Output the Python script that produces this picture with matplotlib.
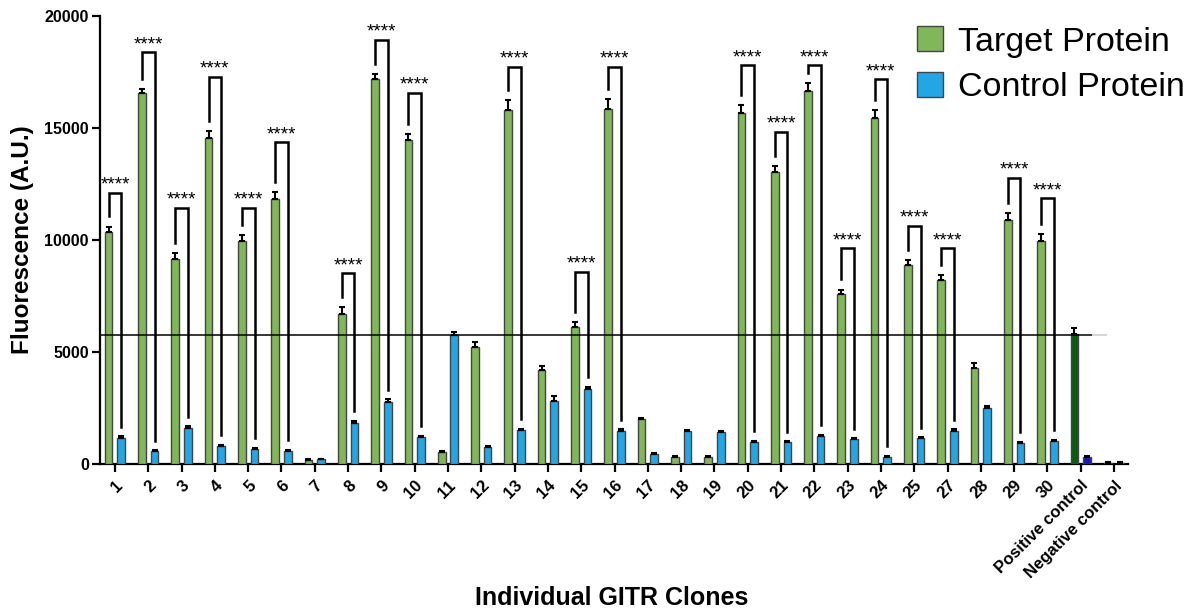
import numpy as np
import matplotlib
matplotlib.use('Agg')
import matplotlib.pyplot as plt
from matplotlib.patches import Patch

plt.rcParams['font.family'] = ['Liberation Sans', 'DejaVu Sans']

# Data
labels = [str(i) for i in range(1, 26)] + ['27', '28', '29', '30',
                                           'Positive control', 'Negative control']
target = [10350, 16550, 9140, 14540, 9955, 11830, 180, 6680, 17170, 14460,
          520, 5210, 15790, 4210, 6100, 15860, 1995, 330, 330, 15670,
          13040, 16670, 7600, 15430, 8880, 8200, 4300, 10890, 9970, 5790, 50]
target_err = [250, 180, 270, 340, 250, 310, 40, 340, 240, 270,
              60, 220, 460, 165, 240, 450, 80, 40, 50, 340,
              270, 330, 190, 370, 220, 250, 190, 330, 300, 270, 20]
control = [1170, 580, 1620, 820, 685, 595, 210, 1845, 2780, 1205,
           5760, 775, 1505, 2800, 3330, 1490, 430, 1455, 1430, 1000,
           980, 1250, 1100, 330, 1145, 1490, 2500, 950, 1030, 330, 60]
control_err = [60, 50, 70, 50, 50, 50, 30, 80, 120, 60,
               150, 50, 70, 240, 120, 70, 40, 60, 60, 50,
               50, 60, 60, 40, 60, 70, 80, 50, 50, 40, 20]

# significance brackets (group label, bracket top)
sig_groups = ['1', '2', '3', '4', '5', '6', '8', '9', '10', '13', '15', '16',
              '20', '21', '22', '23', '24', '25', '27', '29', '30']
sig_tops = [12110, 18380, 11450, 17290, 11450, 14360, 8510, 18930, 16580,
            17740, 8590, 17740, 17800, 14840, 17800, 9630, 17170, 10640,
            9630, 12780, 11860]

threshold = 5760

green = '#80b758'
blue = '#22a7e6'
edge = '#444444'

fig = plt.figure(figsize=(11.99, 6.10), dpi=100)
ax = fig.add_axes([0.0834, 0.2393, 0.8574, 0.7345])

x = np.arange(len(labels))
off = 0.19
w = 0.23

g_colors = [green] * len(labels)
b_colors = [blue] * len(labels)
g_colors[-2] = '#0b5c10'
b_colors[-2] = '#1414c8'

ax.bar(x - off, target, w, color=g_colors, edgecolor=edge, linewidth=1.0, zorder=3)
ax.bar(x + off, control, w, color=b_colors, edgecolor=edge, linewidth=1.0, zorder=3)

zeros = np.zeros(len(labels))
ax.errorbar(x - off, target, yerr=[zeros, target_err], fmt='none', ecolor='black',
            elinewidth=1.5, capsize=2.2, capthick=1.5, zorder=4)
ax.errorbar(x + off, control, yerr=[zeros, control_err], fmt='none', ecolor='black',
            elinewidth=1.5, capsize=2.2, capthick=1.5, zorder=4)

# threshold line
ax.hlines(threshold, -0.45, 29.35, color='black', lw=1.1, zorder=5)
ax.hlines(threshold, 29.35, 29.8, color='#cccccc', lw=1.1, zorder=5)

# brackets
for g, top in zip(sig_groups, sig_tops):
    i = labels.index(g)
    xl = i - off
    xr = i + off
    yl = target[i] + target_err[i] + 450
    yr = control[i] + control_err[i] + 420
    ax.plot([xl, xl, xr, xr], [yl, top, top, yr], color='black', lw=1.8,
            solid_joinstyle='miter', zorder=6, clip_on=False)
    ax.text(i, top - 40, '****', ha='center', va='bottom', fontsize=13.5,
            zorder=6)

ax.set_xlim(-0.45, 30.42)
ax.set_ylim(0, 20000)
ax.set_yticks([0, 5000, 10000, 15000, 20000])
ax.set_xticks(x)
ax.set_xticklabels(labels, rotation=45, ha='right', va='top',
                   rotation_mode='anchor', fontsize=12, fontweight='bold')
for t in ax.get_yticklabels():
    t.set_fontweight('bold')
    t.set_fontsize(11.5)

ax.spines['top'].set_visible(False)
ax.spines['right'].set_visible(False)
ax.spines['left'].set_linewidth(1.6)
ax.spines['bottom'].set_linewidth(1.6)
ax.tick_params(axis='both', length=6, width=1.6, direction='out')
ax.tick_params(axis='x', pad=4)
ax.tick_params(axis='y', pad=2)

ax.set_ylabel('Fluorescence (A.U.)', fontsize=17.5, fontweight='bold')
ax.yaxis.set_label_coords(-0.064, 0.5)
fig.text(0.51, 0.008, 'Individual GITR Clones', ha='center', va='baseline',
         fontsize=18, fontweight='bold')

handles = [Patch(facecolor=green, edgecolor=edge, linewidth=1.0),
           Patch(facecolor=blue, edgecolor=edge, linewidth=1.0)]
fig.legend(handles, ['Target Protein', 'Control Protein'], loc='upper left',
           bbox_to_anchor=(0.765, 0.957), frameon=False, fontsize=24.5,
           handlelength=0.75, handleheight=0.75, handletextpad=0.45,
           labelspacing=0.42, borderpad=0.0, borderaxespad=0.0)

fig.savefig('out.png', dpi=100)
